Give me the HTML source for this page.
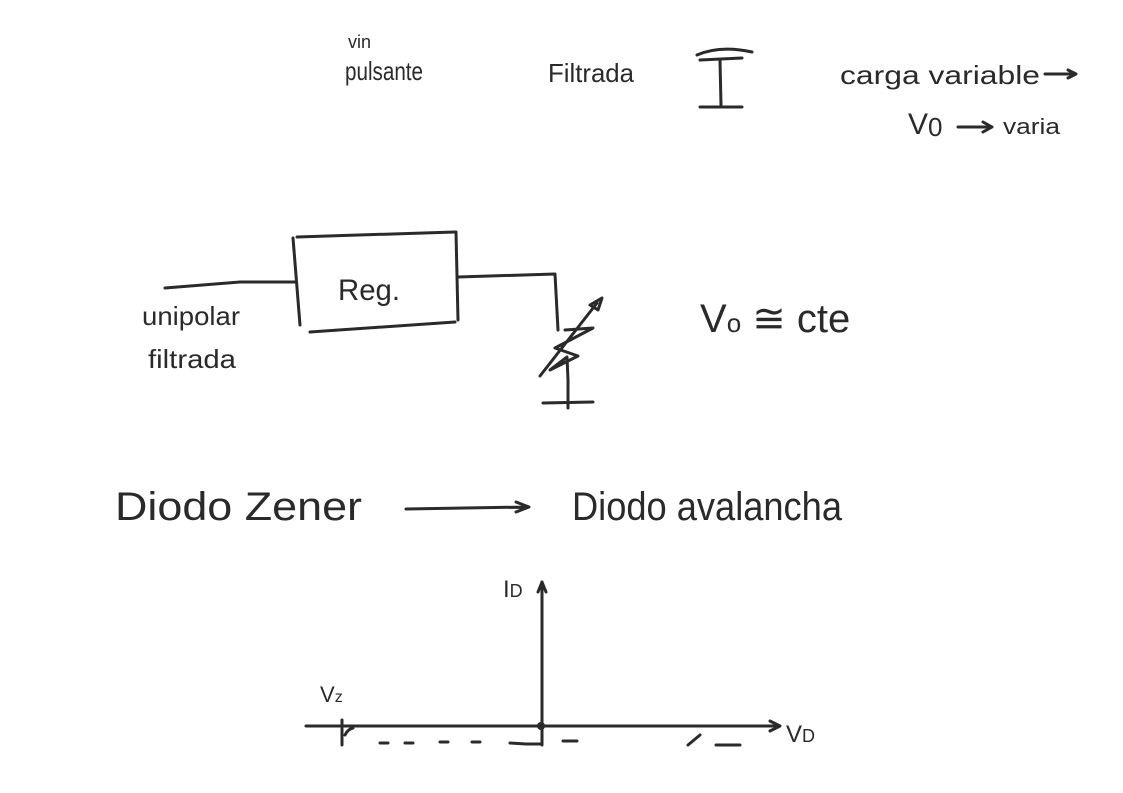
<!DOCTYPE html>
<html><head><meta charset="utf-8"><style>
body{margin:0;background:#fff;}
svg{display:block}
text{font-family:"Liberation Sans",sans-serif;fill:#2a2a2a;font-weight:300}
</style></head><body>
<svg width="1123" height="793" viewBox="0 0 1123 793" xmlns="http://www.w3.org/2000/svg">
<rect width="1123" height="793" fill="#fff"/>
<g fill="none" stroke="#2a2a2a" stroke-width="3" stroke-linecap="round" stroke-linejoin="round">
<path d="M697 55 Q720 45 752 52"/>
<path d="M700 60 L742 58"/>
<path d="M720 60 L721 105"/>
<path d="M700 107 L742 107"/>
<path d="M1045 74 L1075 74 M1068 70 L1076 74 L1068 78"/>
<path d="M958 127 L990 127 M983 122 L992 127 L983 132"/>
<path d="M293 238 L300 325"/>
<path d="M297 237 L455 232"/>
<path d="M456 232 L458 320"/>
<path d="M310 332 L455 322"/>
<path d="M165 288 L240 282 L295 282"/>
<path d="M458 277 L555 274 L558 330"/>
<path d="M565 330 L593 328 L555 348 L578 356 L550 370 L567 357 L568 380 L568 408"/>
<path d="M540 376 L597 303"/>
<path d="M590 305 L602 298 L598 310 Z"/>
<path d="M543 403 L593 402"/>
<path d="M406 509 L528 507 M516 502 L529 507 L516 512"/>
<path d="M542 582 L542 745"/>
<path d="M538 592 L542 582 L546 592"/>
<path d="M306 726 L778 726 M770 721 L780 726 L770 731"/>
<path d="M342 720 L342 745"/>
<path d="M345 735 Q348 729 353 728"/>
<path d="M380 743 L388 743 M405 743 L413 743 M440 742 L448 742 M472 742 L480 742 M510 743 L526 744 L540 744"/>
<path d="M563 741 L577 741 M688 745 L700 735 M716 745 L740 745"/>
</g>
<circle cx="541" cy="726" r="4" fill="#2a2a2a"/>
<text x="348" y="48" font-size="18">vin</text>
<text x="345" y="80" font-size="26" textLength="78" lengthAdjust="spacingAndGlyphs">pulsante</text>
<text x="548" y="82" font-size="26" textLength="86" lengthAdjust="spacingAndGlyphs">Filtrada</text>
<text x="840" y="84" font-size="26" textLength="200" lengthAdjust="spacingAndGlyphs">carga variable</text>
<text x="908" y="134" font-size="30">V</text><text x="928" y="136" font-size="26">0</text>
<text x="1003" y="134" font-size="22" textLength="57" lengthAdjust="spacingAndGlyphs">varia</text>
<text x="338" y="300" font-size="30" textLength="62" lengthAdjust="spacingAndGlyphs">Reg.</text>
<text x="142" y="325" font-size="26" textLength="98" lengthAdjust="spacingAndGlyphs">unipolar</text>
<text x="148" y="368" font-size="26" textLength="88" lengthAdjust="spacingAndGlyphs">filtrada</text>
<text x="700" y="332" font-size="40">V<tspan font-size="26">o</tspan> ≅ cte</text>
<text x="115" y="520" font-size="40" textLength="247" lengthAdjust="spacingAndGlyphs">Diodo Zener</text>
<text x="572" y="520" font-size="40" textLength="270" lengthAdjust="spacingAndGlyphs">Diodo avalancha</text>
<text x="503" y="597" font-size="24">I<tspan font-size="18">D</tspan></text>
<text x="786" y="742" font-size="24">V<tspan font-size="18">D</tspan></text>
<text x="320" y="702" font-size="22">V<tspan font-size="16">z</tspan></text>
</svg>
</body></html>
